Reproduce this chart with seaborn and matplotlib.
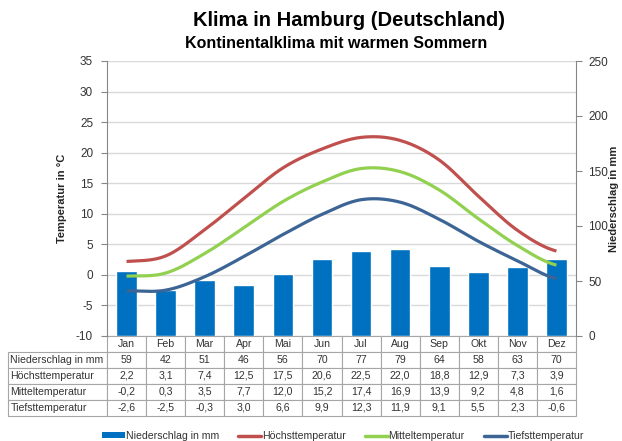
import numpy as np
import pandas as pd
import matplotlib
matplotlib.use("Agg")
import matplotlib.pyplot as plt
import seaborn as sns
from matplotlib.lines import Line2D
from matplotlib.patches import Patch

# --- Daten ---
months = ["Jan", "Feb", "Mar", "Apr", "Mai", "Jun", "Jul", "Aug", "Sep", "Okt", "Nov", "Dez"]
niederschlag = [59, 42, 51, 46, 56, 70, 77, 79, 64, 58, 63, 70]
hoechst = [2.2, 3.1, 7.4, 12.5, 17.5, 20.6, 22.5, 22.0, 18.8, 12.9, 7.3, 3.9]
mittel = [-0.2, 0.3, 3.5, 7.7, 12.0, 15.2, 17.4, 16.9, 13.9, 9.2, 4.8, 1.6]
tiefst = [-2.6, -2.5, -0.3, 3.0, 6.6, 9.9, 12.3, 11.9, 9.1, 5.5, 2.3, -0.6]

temp_ticks = list(range(-10, 40, 5))
rain_ticks = list(range(0, 300, 50))

C_BAR = "#0070C0"
C_HOCH = "#C0504D"
C_MITTEL = "#92D050"
C_TIEF = "#3C6494"
TXT = "#333333"


def smooth(vals, n=24):
    """Bezier-Glättung der Linie (wie Excel 'geglättete Linie')."""
    y = np.asarray(vals, float)
    xs, ys = [], []
    for i in range(len(y) - 1):
        y0, y1 = y[i], y[i + 1]
        ym = y[i - 1] if i > 0 else y0
        yp = y[i + 2] if i + 2 < len(y) else y1
        c1 = y0 + (y1 - ym) / 6
        c2 = y1 - (yp - y0) / 6
        t = np.linspace(0, 1, n, endpoint=(i == len(y) - 2))
        xs.append(i + t)
        ys.append((1 - t) ** 3 * y0 + 3 * (1 - t) ** 2 * t * c1
                  + 3 * (1 - t) * t ** 2 * c2 + t ** 3 * y1)
    return np.concatenate(xs), np.concatenate(ys)


sns.set_style("white")
plt.rcParams["font.family"] = ["Liberation Sans", "DejaVu Sans"]
plt.rcParams["axes.unicode_minus"] = False

W, H = 622, 441
fig = plt.figure(figsize=(W / 100, H / 100), dpi=100)
L, R, T, B = 107, 576, 61, 336
ax = fig.add_axes([L / W, 1 - B / H, (R - L) / W, (B - T) / H])

# Temperatur-Achse (links) mit Gitter
ax.set_ylim(-10, 35)
ax.set_yticks(temp_ticks)
ax.yaxis.grid(True, color="#D9D9D9", linewidth=1)
ax.set_axisbelow(True)
ax.tick_params(axis="y", labelsize=8.5, colors="#868686", labelcolor=TXT,
               length=4, width=0.8, direction="out", left=True, pad=6)
ax.set_ylabel("Temperatur in °C", fontsize=8, fontweight="bold")
ax.yaxis.set_label_coords((67 - L) / (R - L), 0.5)
for s in ["top", "right", "bottom"]:
    ax.spines[s].set_visible(False)
ax.spines["left"].set_color("#868686")

# Niederschlag (rechts) als Balken
ax2 = ax.twinx()
df = pd.DataFrame({"Monat": months, "Niederschlag": niederschlag})
sns.barplot(data=df, x="Monat", y="Niederschlag", color=C_BAR, saturation=1,
            width=0.53, ax=ax2)
ax2.set_ylim(0, 250)
ax2.set_yticks(rain_ticks)
ax2.set_xlim(-0.5, 11.5)
ax2.tick_params(axis="y", labelsize=8.5, colors="#868686", labelcolor=TXT,
                length=4, width=0.8, direction="out", right=True, pad=5)
ax2.set_ylabel("Niederschlag in mm", fontsize=8, fontweight="bold")
ax2.yaxis.set_label_coords((609 - L) / (R - L), 0.5)
ax2.set_xlabel("")
ax2.tick_params(axis="x", bottom=False, labelbottom=False)
for s in ["top", "left", "bottom"]:
    ax2.spines[s].set_visible(False)
ax2.spines["right"].set_color("#868686")

# Temperaturlinien oben drauf
ax3 = ax.twinx()
ax3.set_ylim(-10, 35)
ax3.set_xlim(-0.5, 11.5)
ax3.axis("off")
for vals, col in [(hoechst, C_HOCH), (mittel, C_MITTEL), (tiefst, C_TIEF)]:
    xs, ys = smooth(vals)
    ax3.plot(xs, ys, color=col, linewidth=2.3, solid_capstyle="butt")

ax.set_xlim(-0.5, 11.5)
ax.set_xticks([])

# --- Datentabelle ---
fmt = lambda v: f"{v:.1f}".replace(".", ",")
rows = [[""] + months,
        ["Niederschlag in mm"] + [str(v) for v in niederschlag],
        ["Höchsttemperatur"] + [fmt(v) for v in hoechst],
        ["Mitteltemperatur"] + [fmt(v) for v in mittel],
        ["Tiefsttemperatur"] + [fmt(v) for v in tiefst]]
tx0, ty1 = 8, 416
cw = (R - L) / 12
tab = ax.table(cellText=rows, cellLoc="center",
               colWidths=[(L - tx0) / (R - L)] + [cw / (R - L)] * 12,
               bbox=[(tx0 - L) / (R - L), (B - ty1) / (B - T),
                     (R - tx0) / (R - L), (ty1 - B) / (B - T)])
tab.auto_set_font_size(False)
tab.set_fontsize(7.6)
for (r, c), cell in tab.get_celld().items():
    cell.set_edgecolor("#A6A6A6")
    cell.set_linewidth(0.8)
    cell.get_text().set_color(TXT)
    if c == 0:
        cell.PAD = 0.025
        cell.get_text().set_ha("left")
tab[(0, 0)].visible_edges = ""

# --- Titel ---
fig.text(349 / W, 1 - 20 / H, "Klima in Hamburg (Deutschland)", ha="center",
         va="center", fontsize=14.5, fontweight="bold", color="black")
fig.text(336 / W, 1 - 43 / H, "Kontinentalklima mit warmen Sommern", ha="center",
         va="center", fontsize=11.5, fontweight="bold", color="black")

# --- Legende ---
handles = [Patch(facecolor=C_BAR, edgecolor="none"),
           Line2D([], [], color=C_HOCH, linewidth=2.5),
           Line2D([], [], color=C_MITTEL, linewidth=2.5),
           Line2D([], [], color=C_TIEF, linewidth=2.5)]
labels = ["Niederschlag in mm", "Höchsttemperatur", "Mitteltemperatur", "Tiefsttemperatur"]
fig.legend(handles, labels, loc="center", bbox_to_anchor=(343 / W, 1 - 436 / H),
           ncol=4, frameon=False, fontsize=7.6, handlelength=2.2, handleheight=0.5,
           handletextpad=0.05, columnspacing=1.8, labelcolor=TXT)

fig.savefig("out.png", dpi=100)
